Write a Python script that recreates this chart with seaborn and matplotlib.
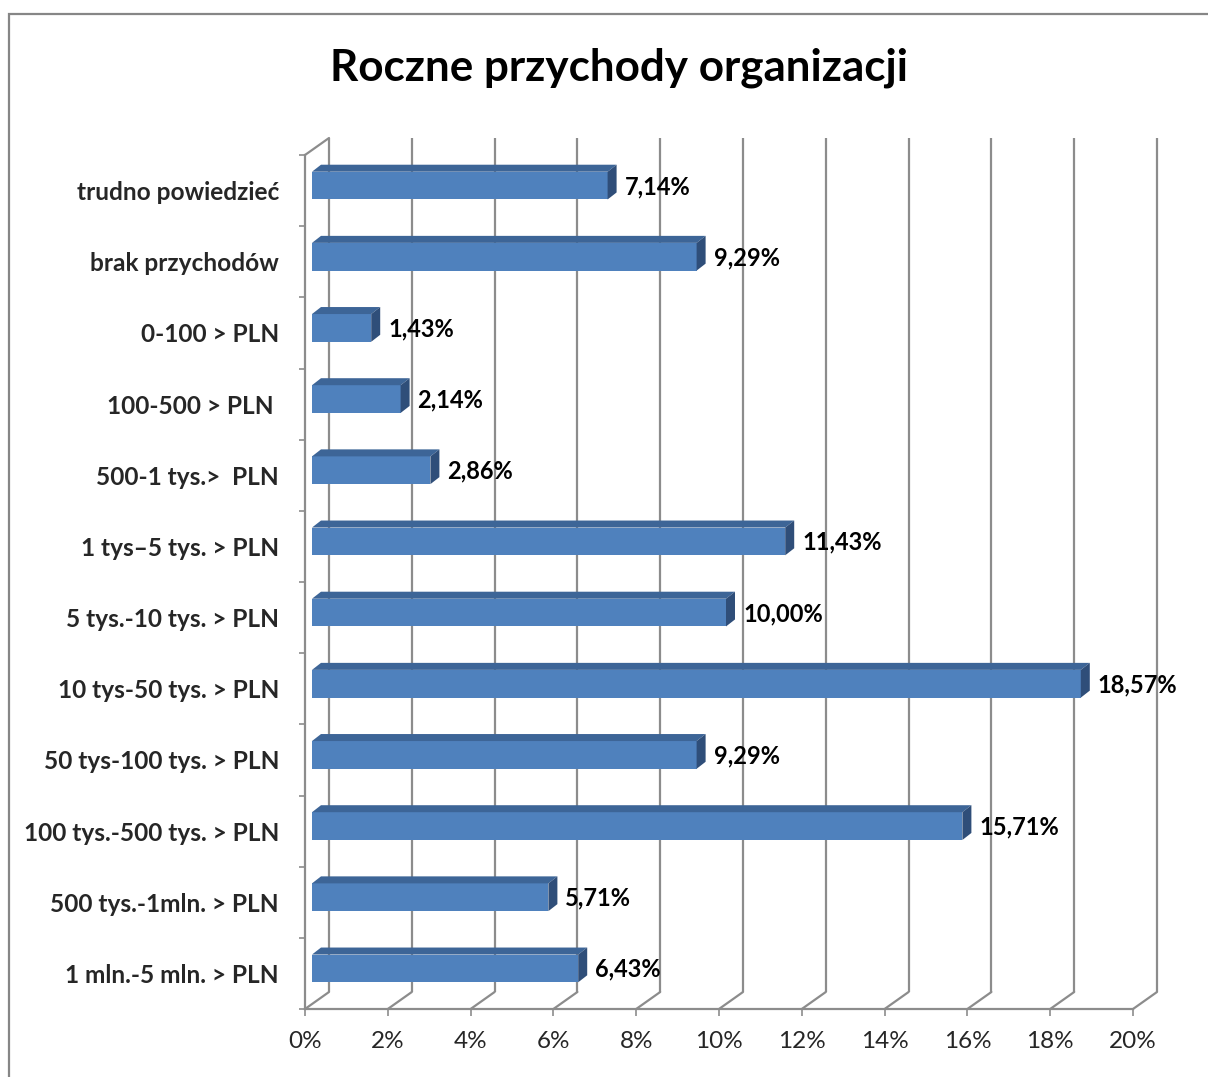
import matplotlib
matplotlib.use("Agg")
import matplotlib.pyplot as plt
import seaborn as sns
import pandas as pd
import numpy as np
from matplotlib.transforms import ScaledTranslation, IdentityTransform
from matplotlib.patches import Polygon, Rectangle

# ---------------- data ----------------
categories = [
    "trudno powiedzieć",
    "brak przychodów",
    "0-100 > PLN",
    "100-500 > PLN ",
    "500-1 tys.>  PLN",
    "1 tys–5 tys. > PLN",
    "5 tys.-10 tys. > PLN",
    "10 tys-50 tys. > PLN",
    "50 tys-100 tys. > PLN",
    "100 tys.-500 tys. > PLN",
    "500 tys.-1mln. > PLN",
    "1 mln.-5 mln. > PLN",
]
values = [7.14, 9.29, 1.43, 2.14, 2.86, 11.43, 10.00, 18.57, 9.29, 15.71, 5.71, 6.43]
x_ticks = [0, 2, 4, 6, 8, 10, 12, 14, 16, 18, 20]
x_tick_labels = ["0%", "2%", "4%", "6%", "8%", "10%", "12%", "14%", "16%", "18%", "20%"]
title = "Roczne przychody organizacji"

# ---------------- style ----------------
sns.set_style("white")
plt.rcParams["font.family"] = ["Lato", "DejaVu Sans"]

W, H = 1208, 1077
DPI = 100
fig = plt.figure(figsize=(W / DPI, H / DPI), dpi=DPI)
fig.patch.set_facecolor("white")

GRID = "#8c8c8c"
FRONT = "#4F81BD"
TOP = "#3D6597"
SIDE = "#2F4E79"

# front plane of the 3D box
ax = fig.add_axes([305 / W, 1 - 1009 / H, (1133 - 305) / W, (1009 - 155) / H])
ax.set_facecolor("none")

df = pd.DataFrame({"cat": categories, "val": values})
sns.barplot(data=df, x="val", y="cat", orient="h", color=FRONT, saturation=1,
            width=0.39, ax=ax, zorder=3)
ax.set_xlim(0, 20)
ax.set_ylim(len(categories) - 0.5, -0.5)
ax.set_xlabel("")
ax.set_ylabel("")

def px(v):
    return v / DPI

bar_off = ScaledTranslation(px(7), px(5), fig.dpi_scale_trans)
grid_off = ScaledTranslation(px(24), px(17), fig.dpi_scale_trans)
depth = np.array([9.0, 7.0])

# back wall gridlines + floor diagonals
xax_tr = ax.get_xaxis_transform()
for t in x_ticks:
    ax.plot([t, t], [0, 1], transform=xax_tr + grid_off, color=GRID, lw=1.6,
            zorder=1, clip_on=False, solid_capstyle="butt")
    a = xax_tr.transform((t, 0))
    ax.plot([a[0], a[0] + 24], [a[1], a[1] + 17], transform=IdentityTransform(),
            color=GRID, lw=1.6, zorder=1, clip_on=False)
# top-left diagonal of left wall
a = xax_tr.transform((0, 1))
ax.plot([a[0], a[0] + 24], [a[1], a[1] + 17], transform=IdentityTransform(),
        color=GRID, lw=1.6, zorder=1, clip_on=False)

# bars: shift front face and add top / side faces
tr_bar = ax.transData + bar_off
for p in ax.patches:
    p.set_transform(tr_bar)
    p.set_edgecolor("none")
    x0, y0, w, h = p.get_x(), p.get_y(), p.get_width(), p.get_height()
    pts = [tr_bar.transform((x0, y0)), tr_bar.transform((x0 + w, y0)),
           tr_bar.transform((x0 + w, y0 + h)), tr_bar.transform((x0, y0 + h))]
    top_y = max(c[1] for c in pts)
    bot_y = min(c[1] for c in pts)
    left_x = min(c[0] for c in pts)
    right_x = max(c[0] for c in pts)
    TL = np.array([left_x, top_y]); TR = np.array([right_x, top_y])
    BR = np.array([right_x, bot_y])
    top_face = Polygon([TL, TR, TR + depth, TL + depth], closed=True,
                       facecolor=TOP, edgecolor="none",
                       transform=IdentityTransform(), zorder=3, clip_on=False)
    side_face = Polygon([TR, BR, BR + depth, TR + depth], closed=True,
                        facecolor=SIDE, edgecolor="none",
                        transform=IdentityTransform(), zorder=3, clip_on=False)
    ax.add_artist(top_face)
    ax.add_artist(side_face)

# value labels
for i, v in enumerate(values):
    lbl = f"{v:.2f}".replace(".", ",") + "%"
    ax.annotate(lbl, xy=(v, i), xycoords="data", xytext=(24, -3.5),
                textcoords="offset pixels", ha="left", va="baseline",
                fontsize=17, fontweight="bold", color="black", zorder=5)

# spines
for s in ["top", "right"]:
    ax.spines[s].set_visible(False)
for s in ["left", "bottom"]:
    ax.spines[s].set_color(GRID)
    ax.spines[s].set_linewidth(1.6)
    ax.spines[s].set_zorder(2)

# ticks
ax.set_xticks(x_ticks)
ax.set_xticklabels(x_tick_labels)
ax.tick_params(axis="x", length=7 * 0.72, width=1.2, color=GRID, pad=11,
               labelsize=17.5, direction="out", bottom=True)
ax.set_yticks(np.arange(len(categories)))
ax.set_yticklabels(categories, fontweight="bold")
ax.set_yticks(np.arange(-0.5, len(categories), 1.0), minor=True)
ax.tick_params(axis="y", which="major", length=0, pad=18.7, labelsize=17.6)
ax.tick_params(axis="y", which="minor", length=6 * 0.72, width=1.2, color=GRID,
               direction="out", left=True)
ax.grid(False)

# title
fig.text(619 / W, 1 - 80 / H, title, ha="center", va="baseline",
         fontsize=31.7, fontweight="bold", color="black")

# outer chart border
fig.patches.append(Rectangle((8.5 / W, -0.1), 2.0, (1 - 13.5 / H) + 0.1,
                             transform=fig.transFigure, fill=False,
                             edgecolor="#868686", linewidth=1.6))

fig.savefig("out.png", dpi=DPI, facecolor="white")
